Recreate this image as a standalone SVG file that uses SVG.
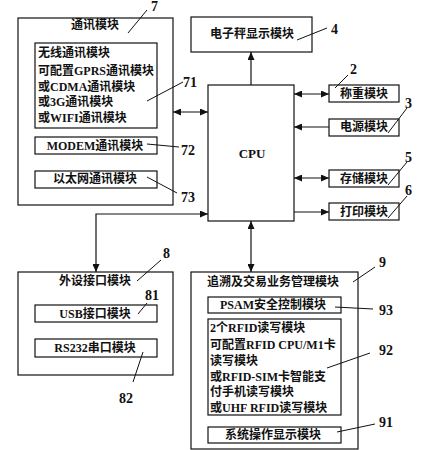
<svg xmlns="http://www.w3.org/2000/svg" width="435" height="450" viewBox="0 0 435 450">
<style>
.b{fill:#fff;stroke:#111;stroke-width:1.2}
.t{font-family:"Liberation Serif","Noto Sans CJK SC",serif;font-size:12px;fill:#111;font-weight:bold}
.c{text-anchor:middle}
.n{font-family:"Liberation Serif",serif;font-size:14px;font-weight:bold;fill:#111}
.l{stroke:#111;stroke-width:1;fill:none}
.a{stroke:#111;stroke-width:1.2;fill:none}
</style>
<defs>
<marker id="ah" viewBox="0 0 10 10" refX="10" refY="5" markerWidth="8" markerHeight="7" markerUnits="userSpaceOnUse" orient="auto-start-reverse" preserveAspectRatio="none">
<path d="M0,0 L10,5 L0,10 Z" fill="#111"/>
</marker>
</defs>
<rect width="435" height="450" fill="#fff"/>

<g id="comm7">
<rect class="b" x="18" y="18" width="155" height="187"/>
<text class="t c" x="95" y="29">通讯模块</text>
<line class="l" x1="128" y1="33" x2="147" y2="10"/>
<text class="n" x="151" y="11">7</text>
</g>
<g id="wireless71">
<rect class="b" x="35" y="43" width="122" height="85"/>
<text class="t" x="38" y="57">无线通讯模块</text>
<text class="t" x="38" y="75">可配置GPRS通讯模块</text>
<text class="t" x="38" y="91">或CDMA通讯模块</text>
<text class="t" x="38" y="106">或3G通讯模块</text>
<text class="t" x="38" y="122">或WIFI通讯模块</text>
<line class="l" x1="147" y1="101" x2="183" y2="82"/>
<text class="n" x="183" y="87">71</text>
</g>
<g id="modem72">
<rect class="b" x="35" y="137" width="122" height="17"/>
<text class="t c" x="95" y="150">MODEM通讯模块</text>
<line class="l" x1="147" y1="144" x2="179" y2="147"/>
<text class="n" x="181" y="155">72</text>
</g>
<g id="eth73">
<rect class="b" x="35" y="171" width="122" height="17"/>
<text class="t c" x="95" y="183">以太网通讯模块</text>
<line class="l" x1="147" y1="177" x2="177" y2="193"/>
<text class="n" x="181" y="202">73</text>
</g>

<g id="display4">
<rect class="b" x="191" y="17" width="121" height="35"/>
<text class="t c" x="252" y="38">电子秤显示模块</text>
<line class="l" x1="297" y1="40" x2="327" y2="28"/>
<text class="n" x="331" y="34">4</text>
</g>
<g id="cpu">
<rect class="b" x="208" y="85" width="86" height="136"/>
<text class="t c" x="252" y="158" style="font-size:13px">CPU</text>
</g>
<g id="weigh2">
<rect class="b" x="329" y="85" width="70" height="17"/>
<text class="t c" x="364" y="98">称重模块</text>
<line class="l" x1="335" y1="88" x2="348" y2="75"/>
<text class="n" x="350" y="74">2</text>
</g>
<g id="power3">
<rect class="b" x="329" y="119" width="70" height="17"/>
<text class="t c" x="364" y="131">电源模块</text>
<line class="l" x1="388" y1="133" x2="407" y2="108"/>
<text class="n" x="405" y="108">3</text>
</g>
<g id="store5">
<rect class="b" x="329" y="170" width="70" height="17"/>
<text class="t c" x="364" y="183">存储模块</text>
<line class="l" x1="388" y1="185" x2="407" y2="162"/>
<text class="n" x="405" y="162">5</text>
</g>
<g id="print6">
<rect class="b" x="329" y="203" width="70" height="17"/>
<text class="t c" x="364" y="216">打印模块</text>
<line class="l" x1="388" y1="218" x2="407" y2="196"/>
<text class="n" x="405" y="195">6</text>
</g>

<g id="periph8">
<rect class="b" x="18" y="272" width="155" height="103"/>
<text class="t c" x="95" y="285">外设接口模块</text>
<line class="l" x1="137" y1="281" x2="161" y2="260"/>
<text class="n" x="163" y="258">8</text>
</g>
<g id="usb81">
<rect class="b" x="35" y="305" width="122" height="17"/>
<text class="t c" x="95" y="318">USB接口模块</text>
<line class="l" x1="138" y1="314" x2="147" y2="303"/>
<text class="n" x="145" y="300">81</text>
</g>
<g id="rs232_82">
<rect class="b" x="35" y="339" width="122" height="18"/>
<text class="t c" x="95" y="352">RS232串口模块</text>
<line class="l" x1="143" y1="352" x2="133" y2="382"/>
<text class="n" x="119" y="403">82</text>
</g>

<g id="trace9">
<rect class="b" x="191" y="272" width="167" height="177"/>
<text class="t c" x="273" y="286">追溯及交易业务管理模块</text>
<line class="l" x1="353" y1="282" x2="375" y2="267"/>
<text class="n" x="379" y="267">9</text>
</g>
<g id="psam93">
<rect class="b" x="208" y="297" width="133" height="16"/>
<text class="t c" x="273" y="309">PSAM安全控制模块</text>
<line class="l" x1="335" y1="307" x2="373" y2="309"/>
<text class="n" x="379" y="315">93</text>
</g>
<g id="rfid92">
<rect class="b" x="208" y="319" width="133" height="96"/>
<text class="t" x="210" y="332">2个RFID读写模块</text>
<text class="t" x="210" y="349">可配置RFID CPU/M1卡</text>
<text class="t" x="210" y="365">读写模块</text>
<text class="t" x="210" y="381">或RFID-SIM卡智能支</text>
<text class="t" x="210" y="396">付手机读写模块</text>
<text class="t" x="210" y="412">或UHF RFID读写模块</text>
<line class="l" x1="327" y1="368" x2="370" y2="353"/>
<text class="n" x="379" y="355">92</text>
</g>
<g id="sys91">
<rect class="b" x="208" y="427" width="133" height="16"/>
<text class="t c" x="273" y="439">系统操作显示模块</text>
<line class="l" x1="337" y1="432" x2="375" y2="424"/>
<text class="n" x="379" y="427">91</text>
</g>

<g id="connectors">
<line class="a" x1="173" y1="112" x2="208" y2="112" marker-start="url(#ah)" marker-end="url(#ah)"/>
<line class="a" x1="251" y1="85" x2="251" y2="52" marker-end="url(#ah)"/>
<line class="a" x1="294" y1="94" x2="329" y2="94" marker-start="url(#ah)" marker-end="url(#ah)"/>
<line class="a" x1="329" y1="127" x2="294" y2="127" marker-end="url(#ah)"/>
<line class="a" x1="294" y1="178" x2="329" y2="178" marker-start="url(#ah)" marker-end="url(#ah)"/>
<line class="a" x1="294" y1="212" x2="329" y2="212" marker-end="url(#ah)"/>
<polyline class="a" points="208,214 96,214 96,272" marker-start="url(#ah)" marker-end="url(#ah)"/>
<line class="a" x1="251" y1="221" x2="251" y2="272" marker-start="url(#ah)" marker-end="url(#ah)"/>
</g>
</svg>
